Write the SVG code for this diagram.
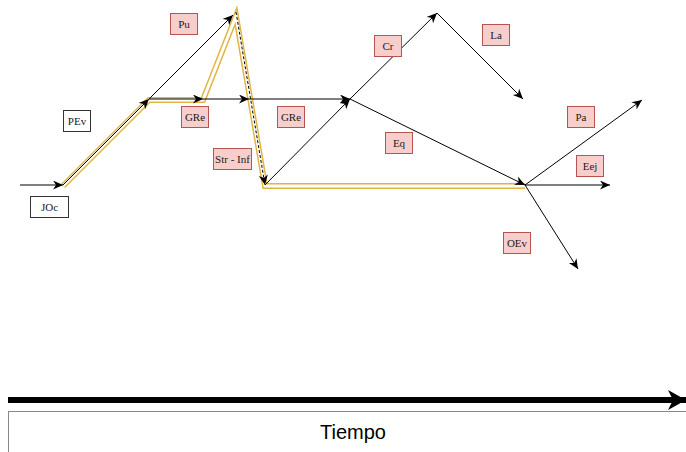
<svg xmlns="http://www.w3.org/2000/svg" width="686" height="452" viewBox="0 0 686 452">
  <defs>
    <marker id="arr" markerUnits="userSpaceOnUse" markerWidth="12" markerHeight="10" refX="10" refY="4.5" orient="auto">
      <path d="M0,0 L10,4.5 L0,9 L3,4.5 z" fill="#000"/>
    </marker>
    <marker id="bigarr" markerUnits="userSpaceOnUse" markerWidth="22" markerHeight="20" refX="18" refY="10" orient="auto">
      <path d="M0,0 L18,10 L0,20 L5,10 z" fill="#000"/>
    </marker>
    <style>
      .edge { fill: none; stroke: #000; stroke-width: 1; }
      .hl-out { fill: none; stroke: #e2b443; stroke-width: 6; stroke-linejoin: miter; stroke-miterlimit: 10; }
      .hl-in { fill: none; stroke: #fff; stroke-width: 3; stroke-linejoin: miter; stroke-miterlimit: 10; }
      .tag rect { fill: #f8cecc; stroke: #b85450; stroke-width: 1; }
      .plain rect { fill: #fff; stroke: #333; stroke-width: 1; }
      .tag text, .plain text { font-family: "Liberation Serif", "Times New Roman", serif; font-size: 11px; font-weight: normal; fill: #1a1a1a; text-anchor: middle; dominant-baseline: central; }
    </style>
  </defs>

  <!-- highlighted route (double gold line) -->
  <g id="route">
    <path class="hl-out" d="M63,186 L149,100 L203,100 L236,16 L265,186 L525,186"/>
    <path class="hl-in" d="M63,186 L149,100 L203,100 L236,16 L265,186 L525,186"/>
  </g>

  <g id="connectors">
    <line class="edge" x1="20" y1="185" x2="63" y2="185" marker-end="url(#arr)"/>
    <line class="edge" x1="63" y1="185" x2="149" y2="99" marker-end="url(#arr)"/>
    <line class="edge" x1="149" y1="99" x2="233" y2="15" marker-end="url(#arr)"/>
    <line class="edge" x1="149" y1="99" x2="203" y2="99" marker-end="url(#arr)"/>
    <line class="edge" x1="203" y1="99" x2="249" y2="99" marker-end="url(#arr)"/>
    <line class="edge" x1="249" y1="99" x2="350" y2="99" marker-end="url(#arr)"/>
    <line class="edge" x1="236" y1="12" x2="265" y2="185" stroke-dasharray="3,2" marker-end="url(#arr)"/>
    <line class="edge" x1="265" y1="185" x2="350" y2="99" marker-end="url(#arr)"/>
    <line class="edge" x1="350" y1="99" x2="437" y2="13" marker-end="url(#arr)"/>
    <line class="edge" x1="437" y1="13" x2="523" y2="99" marker-end="url(#arr)"/>
    <line class="edge" x1="350" y1="99" x2="525" y2="185" marker-end="url(#arr)"/>
    <line class="edge" x1="525" y1="185" x2="642" y2="100" marker-end="url(#arr)"/>
    <line class="edge" x1="525" y1="185" x2="610" y2="185" marker-end="url(#arr)"/>
    <line class="edge" x1="525" y1="185" x2="578" y2="269" marker-end="url(#arr)"/>
    <!-- time axis -->
    <line x1="8" y1="400" x2="686" y2="400" stroke="#000" stroke-width="6" marker-end="url(#bigarr)"/>
  </g>

  <g id="n-joc" class="plain"><rect x="30.5" y="196.5" width="38" height="21"/><text x="49.5" y="207">JOc</text></g>
  <g id="n-pev" class="plain"><rect x="63.5" y="110.5" width="27" height="21"/><text x="77" y="121">PEv</text></g>
  <g id="n-pu" class="tag"><rect x="170.5" y="13.5" width="27" height="21"/><text x="184" y="24">Pu</text></g>
  <g id="n-gre1" class="tag"><rect x="181.5" y="106.5" width="27" height="21"/><text x="195" y="117">GRe</text></g>
  <g id="n-strinf" class="tag"><rect x="213.5" y="148.5" width="38" height="21"/><text x="232.5" y="159">Str - Inf</text></g>
  <g id="n-gre2" class="tag"><rect x="277.5" y="106.5" width="27" height="21"/><text x="291" y="117">GRe</text></g>
  <g id="n-cr" class="tag"><rect x="374.5" y="35.5" width="27" height="21"/><text x="388" y="46">Cr</text></g>
  <g id="n-la" class="tag"><rect x="482.5" y="24.5" width="27" height="21"/><text x="496" y="35">La</text></g>
  <g id="n-eq" class="tag"><rect x="385.5" y="132.5" width="27" height="21"/><text x="399" y="143">Eq</text></g>
  <g id="n-pa" class="tag"><rect x="567.5" y="106.5" width="27" height="21"/><text x="581" y="117">Pa</text></g>
  <g id="n-eej" class="tag"><rect x="576.5" y="155.5" width="27" height="21"/><text x="590" y="166">Eej</text></g>
  <g id="n-oev" class="tag"><rect x="503.5" y="232.5" width="27" height="21"/><text x="517" y="243">OEv</text></g>

  <g id="n-tiempo">
    <rect x="8.5" y="411.5" width="700" height="60" fill="#fff" stroke="#888" stroke-width="1"/>
    <text x="353" y="432" font-family="'Liberation Sans', Arial, sans-serif" font-size="20" fill="#000" text-anchor="middle" dominant-baseline="central">Tiempo</text>
  </g>
</svg>
